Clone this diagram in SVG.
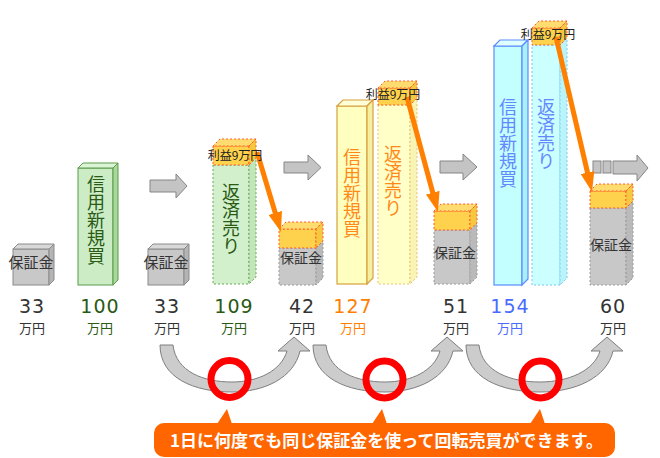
<svg xmlns="http://www.w3.org/2000/svg" width="660" height="458" viewBox="0 0 660 458">
<defs>
<style>
.jp{font-family:"Noto Sans CJK JP","Noto Sans",sans-serif}
.num{font-family:"DejaVu Sans",sans-serif;font-size:19px;letter-spacing:1px;text-anchor:middle}
.unit{font-family:"Noto Sans CJK JP",sans-serif;font-size:13px;text-anchor:middle}
.g-front{fill:#c8c8c8;stroke:#8a8a8a;stroke-width:1}
.g-top{fill:#d8d8d8;stroke:#8a8a8a;stroke-width:1}
.g-side{fill:#b4b4b4;stroke:#8a8a8a;stroke-width:1}
.gd-front{fill:#c8c8c8;stroke:#9a9a9a;stroke-width:1;stroke-dasharray:2 2}
.gd-side{fill:#bababa;stroke:#9a9a9a;stroke-width:1;stroke-dasharray:2 2}
.cap-front{fill:#ffd24d;stroke:#ff5a2a;stroke-width:1;stroke-dasharray:2 2}
.cap-top{fill:#ffdc70;stroke:#ff5a2a;stroke-width:1;stroke-dasharray:2 2}
.cap-side{fill:#f5c840;stroke:#ff5a2a;stroke-width:1;stroke-dasharray:2 2}
.gr-front{fill:#ccecc6;stroke:#5a9a4a;stroke-width:1}
.gr-top{fill:#dcf4d6;stroke:#5a9a4a;stroke-width:1}
.gr-side{fill:#a8d89c;stroke:#5a9a4a;stroke-width:1}
.grd-front{fill:#d2f0cc;stroke:#6aa85a;stroke-width:1;stroke-dasharray:2 2}
.grd-side{fill:#c2e6ba;stroke:#6aa85a;stroke-width:1;stroke-dasharray:2 2}
.y-front{fill:#ffffc0;stroke:#d8a040;stroke-width:1.2}
.y-top{fill:#ffffd8;stroke:#d8a040;stroke-width:1.2}
.y-side{fill:#f4f0a0;stroke:#d8a040;stroke-width:1.2}
.yd-front{fill:#ffffc8;stroke:#e8c070;stroke-width:1;stroke-dasharray:2 2}
.yd-side{fill:#f8f4b4;stroke:#e8c070;stroke-width:1;stroke-dasharray:2 2}
.b-front{fill:#c4ffff;stroke:#5a8cff;stroke-width:1.2}
.b-top{fill:#e0ffff;stroke:#5a8cff;stroke-width:1.2}
.b-side{fill:#a8f0f8;stroke:#5a8cff;stroke-width:1.2}
.bd-front{fill:#ccffff;stroke:#78c8f0;stroke-width:1;stroke-dasharray:2 2}
.bd-side{fill:#b8f4fa;stroke:#78c8f0;stroke-width:1;stroke-dasharray:2 2}
.lbl{font-family:"Noto Sans CJK JP",sans-serif;font-size:15px;fill:#333;text-anchor:middle}
.lbl2{font-family:"Noto Sans CJK JP",sans-serif;font-size:14px;fill:#333;text-anchor:middle}
.vt{font-family:"Noto Sans CJK JP",sans-serif;font-size:18px;writing-mode:vertical-rl;text-anchor:start}
.profit{font-family:"Noto Sans CJK JP",sans-serif;font-size:12px;fill:#222;text-anchor:middle}
.garrow{fill:#c4c4c4;stroke:#858585;stroke-width:1}
.oarrow{stroke:#ff8000;stroke-width:5;fill:none;marker-end:url(#ohead)}
.curve{fill:#cccccc;stroke:#7f7f7f;stroke-width:1}
.ring{fill:none;stroke:#ff0000;stroke-width:7}
.callout{fill:#ff6600}
</style>
<marker id="ohead" markerUnits="userSpaceOnUse" viewBox="0 0 20 14" markerWidth="20" markerHeight="14" refX="4" refY="7" orient="auto">
<path d="M0,0 L20,7 L0,14 Z" fill="#ff8000"/>
</marker>
</defs>
<rect width="660" height="458" fill="#ffffff"/>

<g id="margin1">
<rect class="g-front" x="13" y="249" width="36" height="36"/>
<polygon class="g-top" points="13,249 18,244 54,244 49,249"/>
<polygon class="g-side" points="49,249 54,244 54,280 49,285"/>
<text class="lbl" x="31" y="267.5">保証金</text>
<text class="num" x="32" y="312.5" fill="#333">33</text>
<text class="unit" x="32" y="332.5" fill="#333">万円</text>
</g>

<g id="buy1">
<rect class="gr-front" x="78" y="168" width="35" height="117"/>
<polygon class="gr-top" points="78,168 83,163 118,163 113,168"/>
<polygon class="gr-side" points="113,168 118,163 118,280 113,285"/>
<text class="vt" x="96" y="175" fill="#2a5a14">信用新規買</text>
<text class="num" x="100" y="312.5" fill="#2a5a14">100</text>
<text class="unit" x="100" y="332.5" fill="#2a5a14">万円</text>
</g>

<g id="margin2">
<rect class="g-front" x="148" y="249" width="36" height="36"/>
<polygon class="g-top" points="148,249 153,244 189,244 184,249"/>
<polygon class="g-side" points="184,249 189,244 189,280 184,285"/>
<text class="lbl" x="166" y="267.5">保証金</text>
<text class="num" x="167" y="312.5" fill="#333">33</text>
<text class="unit" x="167" y="332.5" fill="#333">万円</text>
</g>

<g id="sell1">
<rect class="grd-front" x="213" y="165" width="36" height="119"/>
<polygon class="grd-side" points="249,165 256,158 256,277 249,284"/>
<rect class="cap-front" x="213" y="146" width="36" height="19"/>
<polygon class="cap-top" points="213,146 220,139 256,139 249,146"/>
<polygon class="cap-side" points="249,146 256,139 256,158 249,165"/>
<text class="vt" x="231" y="183" fill="#2a5a14">返済売り</text>
<text class="num" x="234" y="312.5" fill="#2a5a14">109</text>
<text class="unit" x="234" y="332.5" fill="#2a5a14">万円</text>
</g>

<g id="margin3">
<rect class="gd-front" x="279" y="248" width="37" height="37"/>
<polygon class="gd-side" points="316,248 323,241 323,278 316,285"/>
<rect class="cap-front" x="279" y="229" width="37" height="19"/>
<polygon class="cap-top" points="279,229 286,222 323,222 316,229"/>
<polygon class="cap-side" points="316,229 323,222 323,241 316,248"/>
<text class="lbl2" x="301" y="263">保証金</text>
<text class="num" x="302" y="312.5" fill="#333">42</text>
<text class="unit" x="302" y="332.5" fill="#333">万円</text>
</g>

<g id="buy2">
<rect class="y-front" x="337" y="106" width="30" height="178"/>
<polygon class="y-top" points="337,106 343,100 373,100 367,106"/>
<polygon class="y-side" points="367,106 373,100 373,278 367,284"/>
<text class="vt" x="352" y="148" fill="#ff8a1a">信用新規買</text>
<text class="num" x="353" y="312.5" fill="#ff8000">127</text>
<text class="unit" x="353" y="332.5" fill="#ff8000">万円</text>
</g>

<g id="sell2">
<rect class="yd-front" x="378" y="105" width="32" height="179"/>
<polygon class="yd-side" points="410,105 417,98 417,277 410,284"/>
<rect class="cap-front" x="378" y="88" width="32" height="17"/>
<polygon class="cap-top" points="378,88 385,81 417,81 410,88"/>
<polygon class="cap-side" points="410,88 417,81 417,98 410,105"/>
<text class="vt" x="393" y="145" fill="#ff8a1a">返済売り</text>
</g>

<g id="margin4">
<rect class="gd-front" x="434" y="230" width="36" height="54"/>
<polygon class="gd-side" points="470,230 477,223 477,277 470,284"/>
<rect class="cap-front" x="434" y="211" width="36" height="19"/>
<polygon class="cap-top" points="434,211 441,204 477,204 470,211"/>
<polygon class="cap-side" points="470,211 477,204 477,223 470,230"/>
<text class="lbl2" x="455" y="258">保証金</text>
<text class="num" x="456" y="312.5" fill="#333">51</text>
<text class="unit" x="456" y="332.5" fill="#333">万円</text>
</g>

<g id="buy3">
<rect class="b-front" x="494" y="46" width="28" height="239"/>
<polygon class="b-top" points="494,46 500,40 528,40 522,46"/>
<polygon class="b-side" points="522,46 528,40 528,279 522,285"/>
<text class="vt" x="508" y="98" fill="#6688ff">信用新規買</text>
<text class="num" x="510" y="312.5" fill="#4a6aff">154</text>
<text class="unit" x="510" y="332.5" fill="#4a6aff">万円</text>
</g>

<g id="sell3">
<rect class="bd-front" x="532" y="45" width="28" height="240"/>
<polygon class="bd-side" points="560,45 567,38 567,278 560,285"/>
<rect class="cap-front" x="532" y="28" width="28" height="17"/>
<polygon class="cap-top" points="532,28 539,21 567,21 560,28"/>
<polygon class="cap-side" points="560,28 567,21 567,38 560,45"/>
<text class="vt" x="546" y="98" fill="#6688ff">返済売り</text>
</g>

<g id="margin5">
<rect class="gd-front" x="590" y="208" width="36" height="77"/>
<polygon class="gd-side" points="626,208 633,201 633,278 626,285"/>
<rect class="cap-front" x="590" y="191" width="36" height="17"/>
<polygon class="cap-top" points="590,191 597,184 633,184 626,191"/>
<polygon class="cap-side" points="626,191 633,184 633,201 626,208"/>
<text class="lbl2" x="611" y="250">保証金</text>
<text class="num" x="613" y="312.5" fill="#333">60</text>
<text class="unit" x="613" y="332.5" fill="#333">万円</text>
</g>

<g id="connectors">
<polygon class="garrow" points="150,180 176,180 176,174 187,186 176,198 176,192 150,192"/>
<polygon class="garrow" points="284,162 308,162 308,155 321,167.5 308,180 308,173 284,173"/>
<polygon class="garrow" points="440,161 463,161 463,154 477,167 463,180 463,173 440,173"/>
<rect class="garrow" x="593" y="161" width="8" height="12"/>
<rect class="garrow" x="603" y="161" width="8" height="12"/>
<polygon class="garrow" points="613,161 637,161 637,155 648,168 637,181 637,174 613,174"/>
<line class="oarrow" x1="257" y1="152" x2="276.4" y2="216.7"/>
<line class="oarrow" x1="407" y1="97" x2="433.8" y2="196.5"/>
<line class="oarrow" x1="556" y1="37" x2="588.4" y2="176.4"/>
<path class="curve" d="M160,345 H173 C176,372 204,382 232,382 C258,382 281,371 287,351 H278 L294,337 L310,351 H300 C294,378 264,392 232,392 C194,392 160,378 160,345 Z"/>
<path class="curve" d="M313,345 H326 C329,372 357,382 385,382 C411,382 434,371 440,351 H431 L447,337 L463,351 H453 C447,378 417,392 385,392 C347,392 313,378 313,345 Z"/>
<path class="curve" d="M466,345 H479 C482,372 511,382 540,382 C568,382 594,371 600,351 H591 L607,337 L623,351 H613 C607,378 575,392 540,392 C501,392 466,378 466,345 Z"/>
</g>

<g id="profit-labels">
<text class="profit" x="235" y="159.5">利益9万円</text>
<text class="profit" x="393" y="98.5">利益9万円</text>
<text class="profit" x="548" y="38.5">利益9万円</text>
</g>

<g id="rings">
<circle class="ring" cx="229.5" cy="379" r="18.5"/>
<circle class="ring" cx="384.5" cy="379.5" r="18.5"/>
<circle class="ring" cx="540.5" cy="379.5" r="18.5"/>
</g>

<g id="callout">
<rect class="callout" x="154" y="423" width="461" height="34" rx="10" ry="10"/>
<polygon class="callout" points="217,424 227,409 232,424"/>
<polygon class="callout" points="372,424 382,409 387,424"/>
<polygon class="callout" points="530,424 540,409 545,424"/>
<text class="jp" x="170" y="447" font-size="17" font-weight="bold" fill="#ffffff" textLength="433" lengthAdjust="spacing">1日に何度でも同じ保証金を使って回転売買ができます。</text>
</g>
</svg>
